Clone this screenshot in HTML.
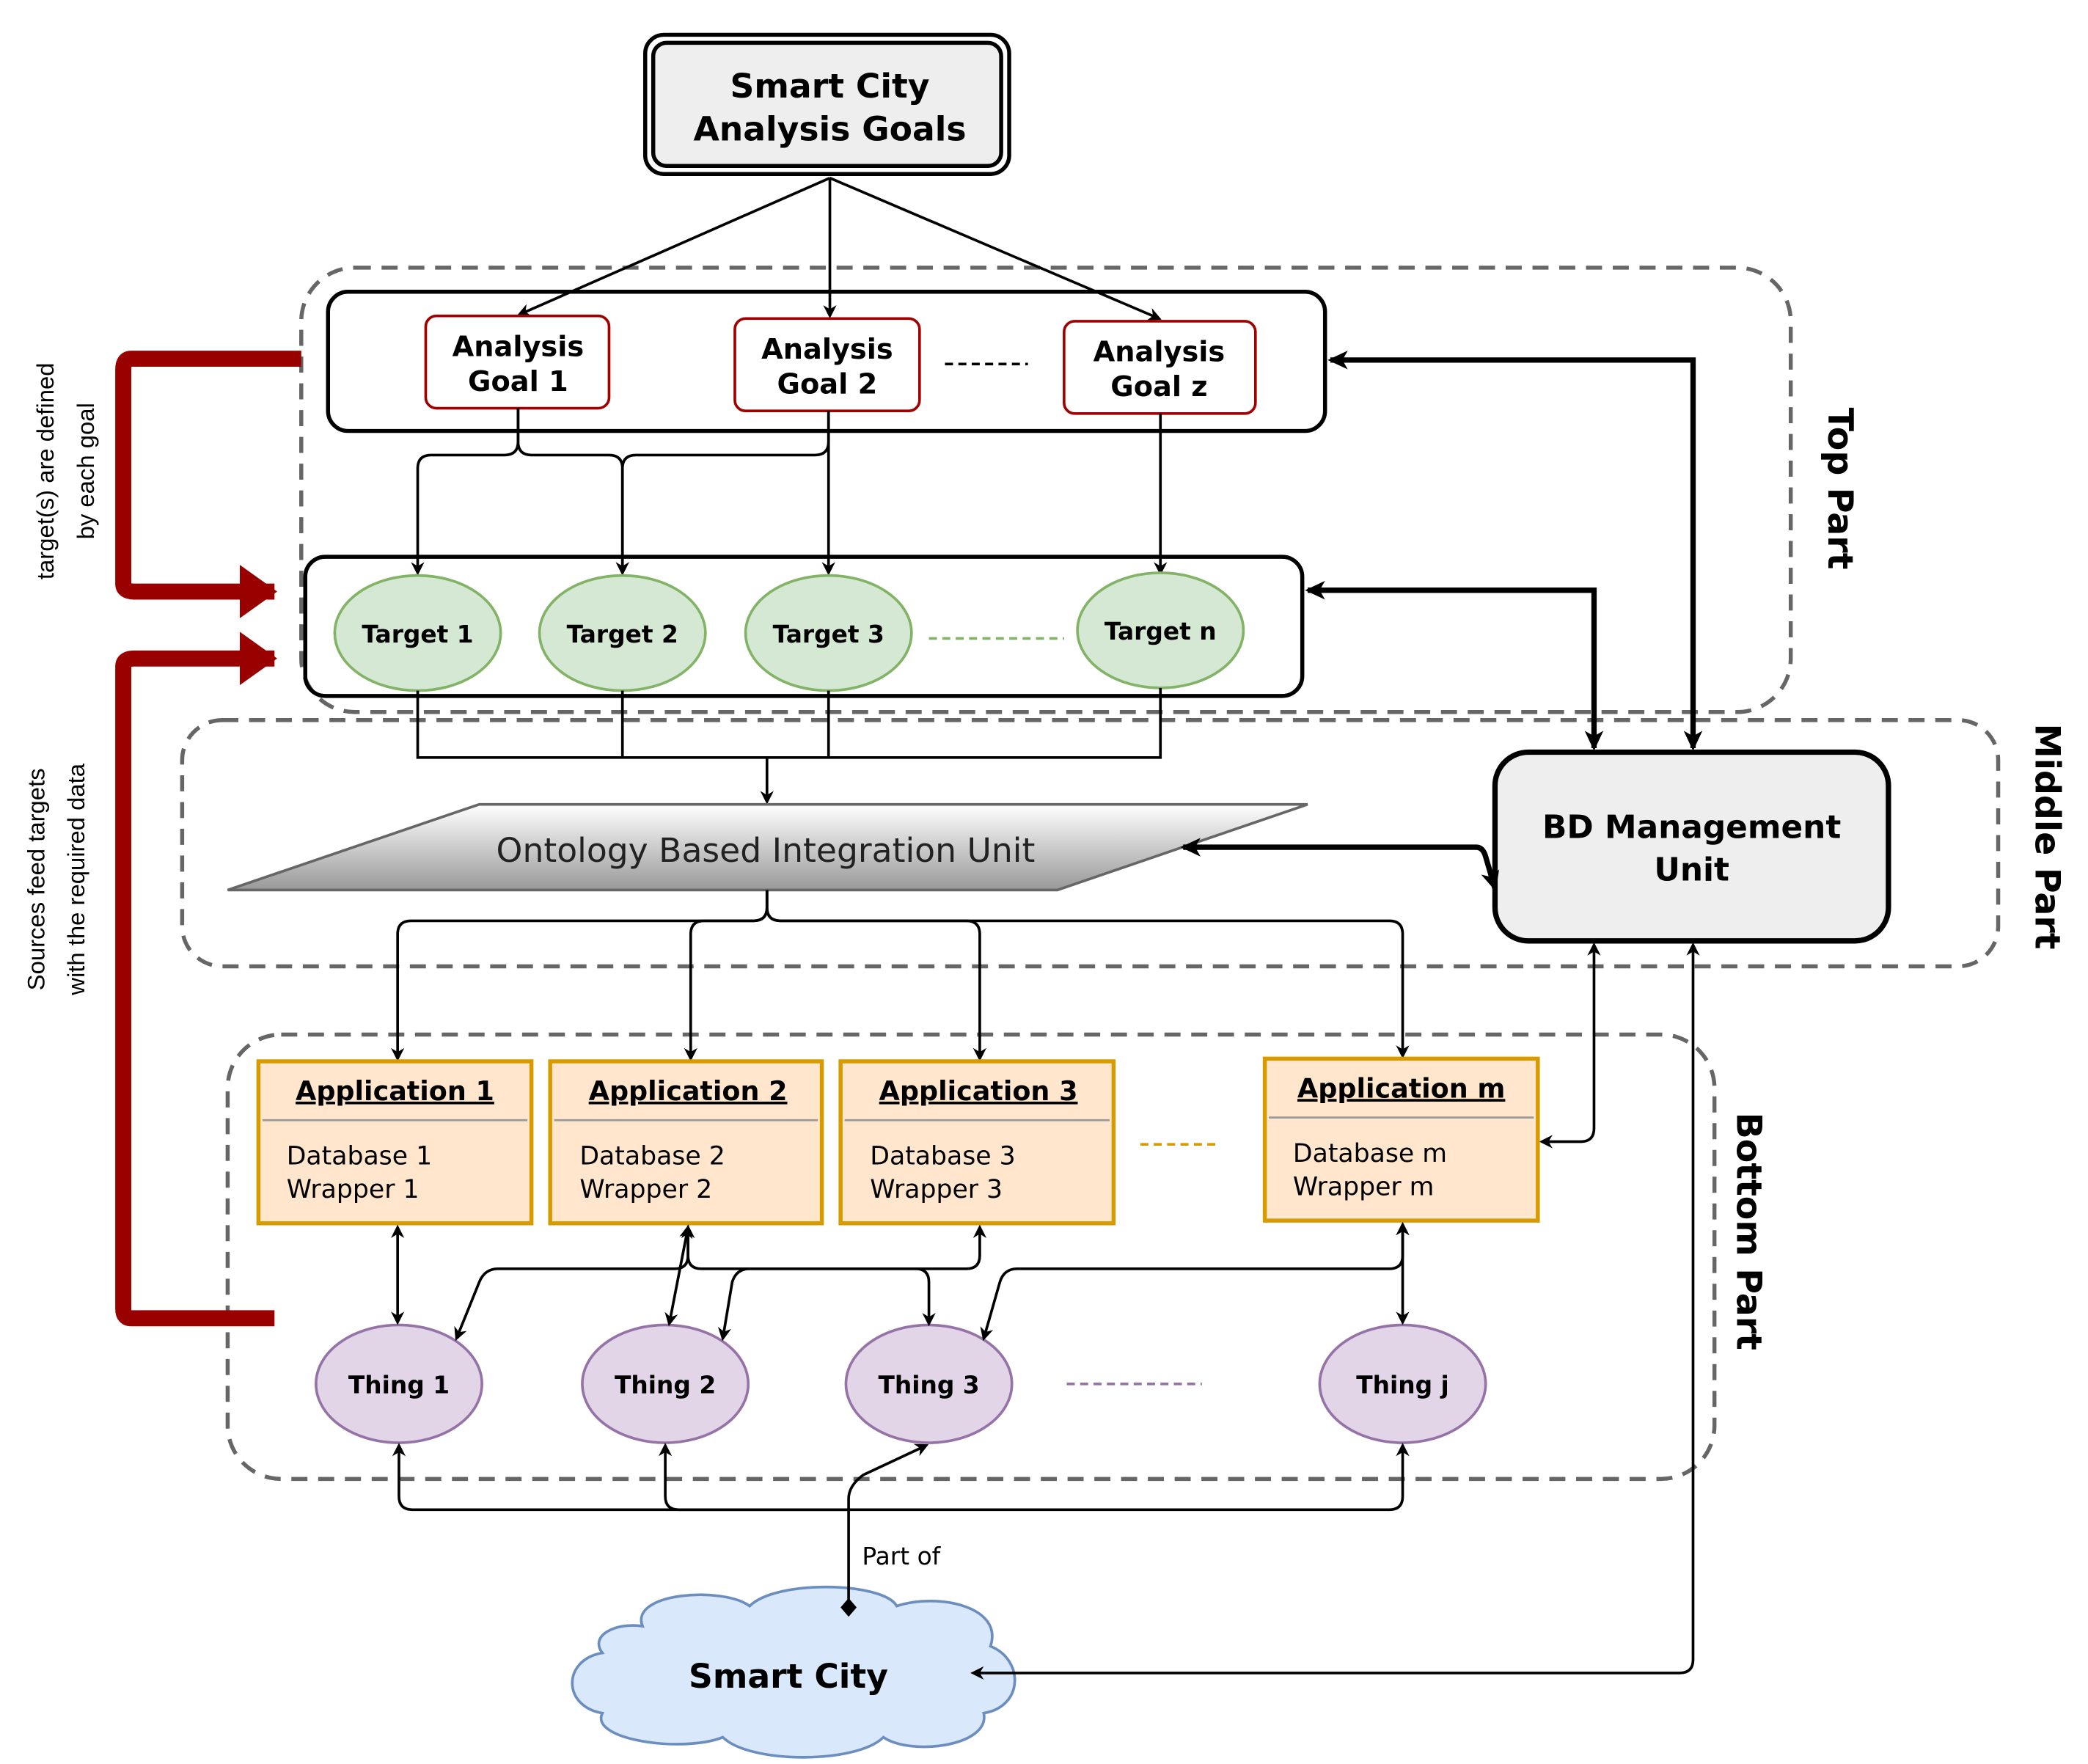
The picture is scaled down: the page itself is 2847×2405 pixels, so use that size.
<!DOCTYPE html>
<html><head><meta charset="utf-8"><style>html,body{margin:0;padding:0;background:#fff}svg{display:block}</style></head><body>
<svg xmlns="http://www.w3.org/2000/svg" width="2847" height="2405" viewBox="0 0 1560 1318" font-family="DejaVu Sans, Liberation Sans, sans-serif">
<defs>
<marker id="a" markerWidth="10" markerHeight="10" refX="8" refY="5" orient="auto-start-reverse" markerUnits="userSpaceOnUse"><path d="M0,0 L10,5 L0,10 L3,5 z" fill="#000"/></marker>
<marker id="ab" markerWidth="16" markerHeight="16" refX="13" refY="8" orient="auto-start-reverse" markerUnits="userSpaceOnUse"><path d="M0,1 L15,8 L0,15 L4,8 z" fill="#000"/></marker>
<marker id="ar" markerWidth="30" markerHeight="40" refX="26" refY="20" orient="auto" markerUnits="userSpaceOnUse"><path d="M0,0 L28,20 L0,40 z" fill="#990000"/></marker>
<linearGradient id="g" x1="0" y1="0" x2="0" y2="1"><stop offset="0" stop-color="#fff"/><stop offset="1" stop-color="#999"/></linearGradient>
</defs>

<!-- dashed regions -->
<rect x="225" y="200" width="1113" height="332" rx="40" fill="none" stroke="#666" stroke-width="3" stroke-dasharray="12,8"/>
<rect x="136" y="538" width="1357" height="184" rx="30" fill="none" stroke="#666" stroke-width="3" stroke-dasharray="12,8"/>
<rect x="170" y="773" width="1111" height="332" rx="40" fill="none" stroke="#666" stroke-width="3" stroke-dasharray="12,8"/>

<!-- top box -->
<rect x="482" y="26" width="272" height="104" rx="14" fill="none" stroke="#000" stroke-width="3"/>
<rect x="488" y="32" width="260" height="92" rx="10" fill="#eee" stroke="#000" stroke-width="3"/>
<text x="620" y="73" font-size="25" font-weight="bold" text-anchor="middle">Smart City</text>
<text x="620" y="105" font-size="25" font-weight="bold" text-anchor="middle">Analysis Goals</text>

<!-- containers -->
<rect x="245" y="218" width="745" height="104" rx="15" fill="none" stroke="#000" stroke-width="3"/>
<rect x="228" y="416" width="745" height="104" rx="15" fill="none" stroke="#000" stroke-width="3"/>

<g stroke="#000" stroke-width="2" fill="none" marker-end="url(#a)">
<line x1="620" y1="133" x2="388" y2="235"/>
<line x1="620" y1="133" x2="620" y2="236"/>
<line x1="620" y1="133" x2="866" y2="238"/>
</g>

<g fill="#fff" stroke="#a00000" stroke-width="2">
<rect x="318" y="236" width="137" height="69" rx="8"/>
<rect x="549" y="238" width="138" height="69" rx="8"/>
<rect x="795" y="240" width="143" height="69" rx="8"/>
</g>
<g font-size="21" font-weight="bold" text-anchor="middle">
<text x="387" y="266">Analysis</text><text x="387" y="292">Goal 1</text>
<text x="618" y="268">Analysis</text><text x="618" y="294">Goal 2</text>
<text x="866" y="270">Analysis</text><text x="866" y="296">Goal z</text>
</g>
<line x1="706" y1="272" x2="768" y2="272" stroke="#000" stroke-width="2" stroke-dasharray="6,4"/>

<g stroke="#000" stroke-width="2" fill="none" marker-end="url(#a)">
<path d="M387,305 V330 Q387,340 377,340 H322 Q312,340 312,350 V428"/>
<path d="M387,305 V330 Q387,340 397,340 H455 Q465,340 465,350 V428"/>
<path d="M619,307 V330 Q619,340 609,340 H475 Q465,340 465,350 V428"/>
<path d="M619,307 V428"/>
<path d="M867,309 V428"/>
</g>

<g fill="#d5e8d4" stroke="#82b366" stroke-width="2">
<ellipse cx="312" cy="473" rx="62" ry="43"/>
<ellipse cx="465" cy="473" rx="62" ry="43"/>
<ellipse cx="619" cy="473" rx="62" ry="43"/>
<ellipse cx="867" cy="471" rx="62" ry="43"/>
</g>
<g font-size="18" font-weight="bold" text-anchor="middle">
<text x="312" y="480">Target 1</text><text x="465" y="480">Target 2</text><text x="619" y="480">Target 3</text><text x="867" y="478">Target n</text>
</g>
<line x1="694" y1="477" x2="795" y2="477" stroke="#82b366" stroke-width="2" stroke-dasharray="6,4"/>

<g stroke="#000" stroke-width="2" fill="none">
<path d="M312,516 V566 H867 V514 M465,516 V566 M619,516 V566"/>
<path d="M573,566 V599" marker-end="url(#a)"/>
</g>

<polygon points="358,601 977,601 790,665 170,665" fill="url(#g)" stroke="#666" stroke-width="2"/>
<text x="572" y="644" font-size="25" text-anchor="middle" fill="#222">Ontology Based Integration Unit</text>

<rect x="1117" y="562" width="294" height="141" rx="25" fill="#eee" stroke="#000" stroke-width="4"/>
<text x="1264" y="626" font-size="24" font-weight="bold" text-anchor="middle">BD Management</text>
<text x="1264" y="658" font-size="24" font-weight="bold" text-anchor="middle">Unit</text>

<g stroke="#000" stroke-width="4" fill="none" marker-start="url(#ab)" marker-end="url(#ab)">
<path d="M994,269 H1265 V559"/>
<path d="M977,441 H1191 V559"/>
<path d="M884,633 H1103 Q1108,633 1110,640 L1117,664"/>
</g>
<g stroke="#000" stroke-width="2" fill="none" marker-start="url(#a)" marker-end="url(#a)">
<path d="M1191,706 V843 Q1191,853 1181,853 H1152"/>
</g>

<g stroke="#000" stroke-width="2" fill="none" marker-end="url(#a)">
<path d="M573,665 V678 Q573,688 563,688 H307 Q297,688 297,698 V791"/>
<path d="M573,665 V678 Q573,688 563,688 H526 Q516,688 516,698 V791"/>
<path d="M573,665 V678 Q573,688 583,688 H722 Q732,688 732,698 V791"/>
<path d="M573,665 V678 Q573,688 583,688 H1038 Q1048,688 1048,698 V789"/>
</g>

<g fill="#ffe6cc" stroke="#d79b00" stroke-width="3">
<rect x="193" y="793" width="204" height="121"/>
<rect x="411" y="793" width="203" height="121"/>
<rect x="628" y="793" width="204" height="121"/>
<rect x="945" y="791" width="204" height="121"/>
</g>
<g stroke="#999" stroke-width="1.5">
<line x1="196" y1="837" x2="394" y2="837"/><line x1="414" y1="837" x2="611" y2="837"/>
<line x1="631" y1="837" x2="829" y2="837"/><line x1="948" y1="835" x2="1146" y2="835"/>
</g>
<g font-size="20" font-weight="bold" text-anchor="middle" text-decoration="underline">
<text x="295" y="822">Application 1</text><text x="514" y="822">Application 2</text>
<text x="731" y="822">Application 3</text><text x="1047" y="820">Application m</text>
</g>
<g font-size="19">
<text x="214" y="870">Database 1</text><text x="214" y="895">Wrapper 1</text>
<text x="433" y="870">Database 2</text><text x="433" y="895">Wrapper 2</text>
<text x="650" y="870">Database 3</text><text x="650" y="895">Wrapper 3</text>
<text x="966" y="868">Database m</text><text x="966" y="893">Wrapper m</text>
</g>
<line x1="852" y1="855" x2="912" y2="855" stroke="#d79b00" stroke-width="2" stroke-dasharray="6,4"/>

<g fill="#e1d5e7" stroke="#9673a6" stroke-width="2">
<ellipse cx="298" cy="1034" rx="62" ry="44"/>
<ellipse cx="497" cy="1034" rx="62" ry="44"/>
<ellipse cx="694" cy="1034" rx="62" ry="44"/>
<ellipse cx="1048" cy="1034" rx="62" ry="44"/>
</g>
<g font-size="18" font-weight="bold" text-anchor="middle">
<text x="298" y="1041">Thing 1</text><text x="497" y="1041">Thing 2</text><text x="694" y="1041">Thing 3</text><text x="1048" y="1041">Thing j</text>
</g>
<line x1="797" y1="1034" x2="898" y2="1034" stroke="#9673a6" stroke-width="2" stroke-dasharray="6,4"/>

<g stroke="#000" stroke-width="2" fill="none" marker-start="url(#a)" marker-end="url(#a)">
<path d="M297,917 V988"/>
<path d="M514,917 V938 Q514,948 504,948 H372 Q362,948 358,958 L341,1000"/>
<path d="M514,917 L500,989"/>
<path d="M514,917 V938 Q514,948 524,948 H684 Q694,948 694,958 V989"/>
<path d="M732,917 V938 Q732,948 722,948 H560 Q550,948 547,958 L540,1000"/>
<path d="M1048,915 V988"/>
<path d="M1048,915 V938 Q1048,948 1038,948 H760 Q750,948 747,958 L735,1000"/>
</g>

<!-- smart city cloud -->
<path d="M480,1215 C470,1190 540,1185 560,1200 C580,1180 660,1182 670,1200 C700,1190 750,1200 740,1230 C765,1240 765,1275 735,1280 C740,1305 680,1312 660,1298 C640,1318 560,1318 540,1298 C510,1310 440,1300 450,1280 C420,1275 420,1240 450,1235 C440,1222 460,1212 480,1215 Z" fill="#dae8fc" stroke="#6c8ebf" stroke-width="2"/>
<text x="589" y="1261" font-size="25" font-weight="bold" text-anchor="middle">Smart City</text>
<path d="M1265,706 V1240 Q1265,1250 1255,1250 H727" stroke="#000" stroke-width="2" fill="none" marker-start="url(#a)" marker-end="url(#a)"/>

<g stroke="#000" stroke-width="2" fill="none">
<path d="M634,1200 V1128"/>
<path d="M634,1128 H308 Q298,1128 298,1118 V1080" marker-end="url(#a)"/>
<path d="M634,1128 H507 Q497,1128 497,1118 V1080" marker-end="url(#a)"/>
<path d="M634,1128 H1038 Q1048,1128 1048,1118 V1080" marker-end="url(#a)"/>
<path d="M634,1128 V1120 Q634,1110 645,1102 L692,1080" marker-end="url(#a)"/>
</g>
<path d="M634,1194 L640,1201 L634,1208 L628,1201 Z" fill="#000"/>
<text x="644" y="1169" font-size="18">Part of</text>

<g stroke="#990000" stroke-width="12" fill="none">
<path d="M225,268 H98 Q92,268 92,276 V436 Q92,442 100,442 H205" marker-end="url(#ar)"/>
<path d="M205,985 H98 Q92,985 92,978 V498 Q92,492 100,492 H205" marker-end="url(#ar)"/>
</g>
<g font-size="18" text-anchor="middle" font-family="Liberation Sans, sans-serif">
<text transform="translate(40,352) rotate(-90)">target(s) are defined</text>
<text transform="translate(70,352) rotate(-90)">by each goal</text>
<text transform="translate(33,657) rotate(-90)">Sources feed targets</text>
<text transform="translate(63,657) rotate(-90)">with the required data</text>
</g>
<g font-size="26" font-weight="bold" text-anchor="middle">
<text transform="translate(1366,365) rotate(90)">Top Part</text>
<text transform="translate(1521,625) rotate(90)">Middle Part</text>
<text transform="translate(1298,920) rotate(90)">Bottom Part</text>
</g>
</svg>
</body></html>
